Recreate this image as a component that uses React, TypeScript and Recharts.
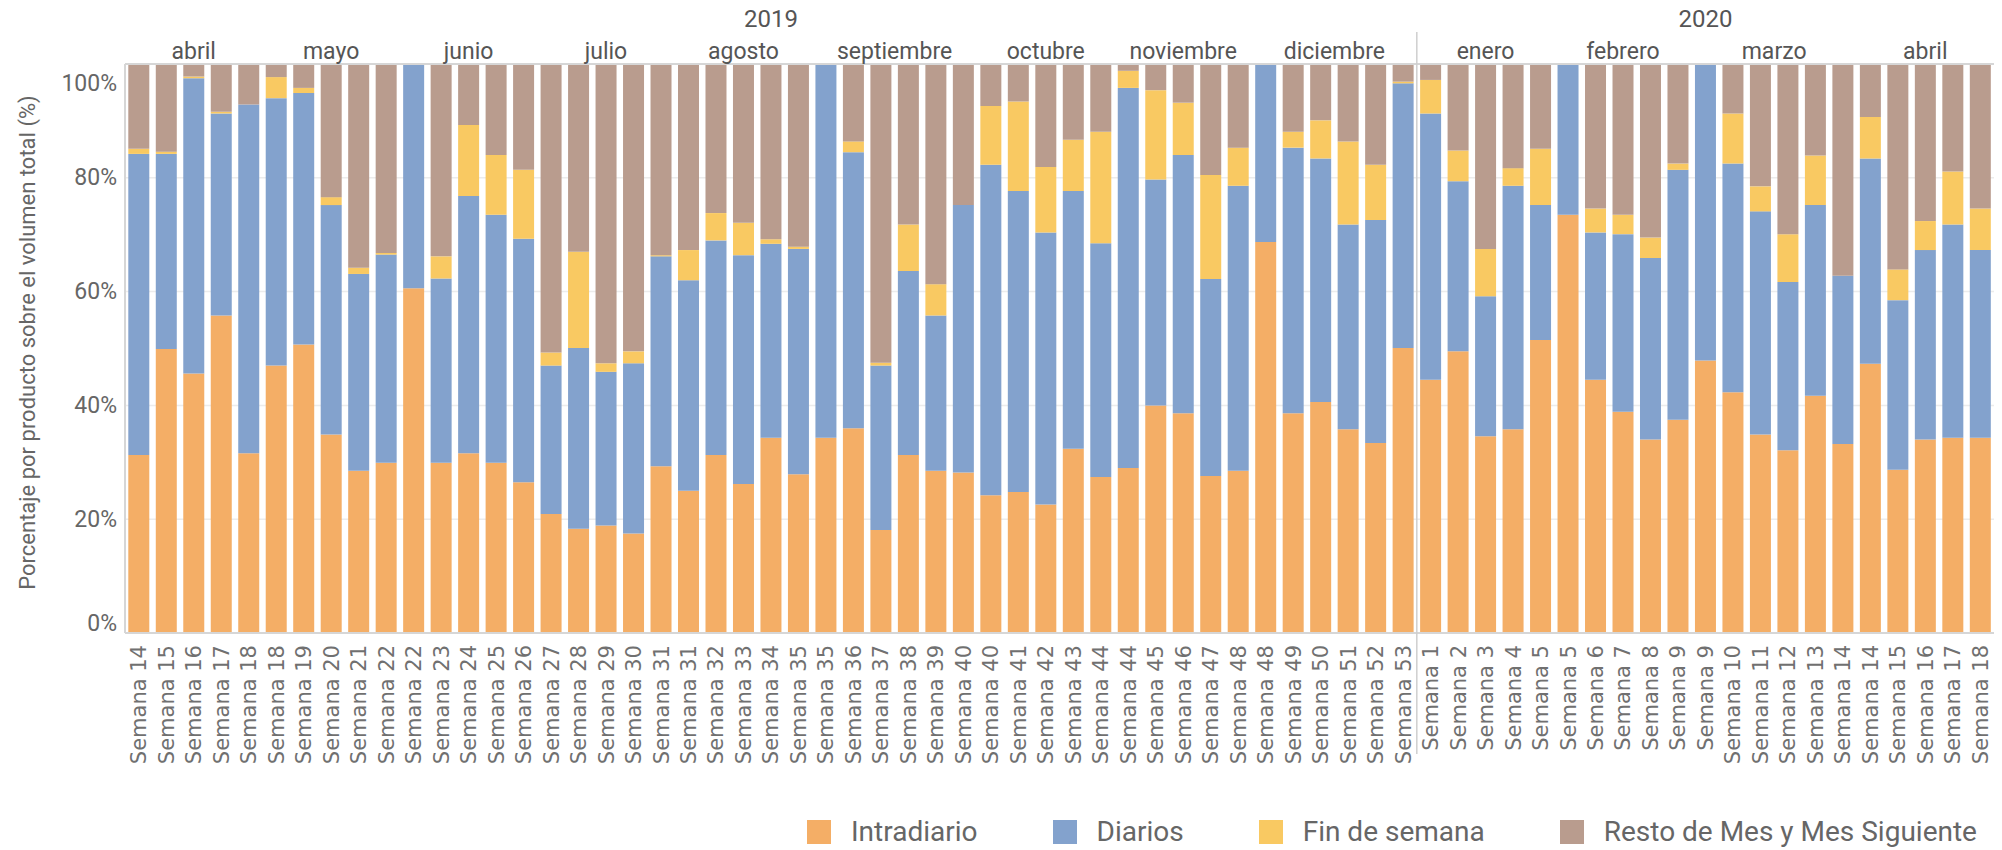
import React from 'react';
import { BarChart, Bar, XAxis, YAxis, CartesianGrid } from 'recharts';

const W = 2002;
const H = 850;
const Y_AXIS_W = 125;
const RIGHT_M = 8;
const PLOT_W = W - Y_AXIS_W - RIGHT_M;

const semanas = [
  'Semana 14', 'Semana 15', 'Semana 16', 'Semana 17', 'Semana 18', 'Semana 18', 'Semana 19', 'Semana 20', 'Semana 21', 'Semana 22',
  'Semana 22', 'Semana 23', 'Semana 24', 'Semana 25', 'Semana 26', 'Semana 27', 'Semana 28', 'Semana 29', 'Semana 30', 'Semana 31',
  'Semana 31', 'Semana 32', 'Semana 33', 'Semana 34', 'Semana 35', 'Semana 35', 'Semana 36', 'Semana 37', 'Semana 38', 'Semana 39',
  'Semana 40', 'Semana 40', 'Semana 41', 'Semana 42', 'Semana 43', 'Semana 44', 'Semana 44', 'Semana 45', 'Semana 46', 'Semana 47',
  'Semana 48', 'Semana 48', 'Semana 49', 'Semana 50', 'Semana 51', 'Semana 52', 'Semana 53', 'Semana 1', 'Semana 2', 'Semana 3',
  'Semana 4', 'Semana 5', 'Semana 5', 'Semana 6', 'Semana 7', 'Semana 8', 'Semana 9', 'Semana 9', 'Semana 10', 'Semana 11',
  'Semana 12', 'Semana 13', 'Semana 14', 'Semana 14', 'Semana 15', 'Semana 16', 'Semana 17', 'Semana 18',
];

const meses = ['abril', 'mayo', 'junio', 'julio', 'agosto', 'septiembre', 'octubre', 'noviembre', 'diciembre', 'enero', 'febrero', 'marzo', 'abril'];
const mesSemanas = [5, 5, 5, 5, 5, 6, 5, 5, 6, 5, 5, 6, 5];
const anios = ['2019', '2020'];
const anioSemanas = [47, 21];

// % sobre el volumen total
const intradiario = [
  31.3, 49.9, 45.6, 55.8, 31.6, 47.0, 50.7, 34.9, 28.5, 29.9,
  60.6, 29.9, 31.6, 29.9, 26.5, 20.9, 18.3, 18.9, 17.5, 29.3,
  25.0, 31.3, 26.2, 34.3, 27.9, 34.3, 36.0, 18.1, 31.3, 28.5,
  28.2, 24.2, 24.8, 22.6, 32.4, 27.4, 29.0, 40.0, 38.6, 27.6,
  28.5, 68.7, 38.6, 40.6, 35.8, 33.4, 50.1, 44.5, 49.5, 34.6,
  35.8, 51.5, 73.5, 44.5, 38.9, 34.0, 37.5, 47.9, 42.3, 34.9,
  32.1, 41.7, 33.2, 47.3, 28.7, 34.0, 34.3, 34.3,
];
const diarios = [
  52.9, 34.3, 51.9, 35.5, 61.3, 47.0, 44.2, 40.3, 34.6, 36.6,
  39.4, 32.4, 45.2, 43.6, 42.8, 26.1, 31.8, 27.0, 29.9, 36.9,
  37.0, 37.7, 40.2, 34.1, 39.6, 65.7, 48.5, 28.9, 32.3, 27.3,
  47.0, 58.1, 52.9, 47.8, 45.3, 41.1, 66.8, 39.7, 45.4, 34.6,
  50.1, 31.3, 46.7, 42.8, 36.0, 39.2, 46.5, 46.8, 29.9, 24.6,
  42.8, 23.7, 26.5, 25.9, 31.2, 31.9, 43.9, 52.1, 40.2, 39.2,
  29.6, 33.5, 29.6, 36.1, 29.8, 33.3, 37.5, 33.0,
];
const finDeSemana = [
  0.9, 0.4, 0.3, 0.3, 0, 3.7, 0.9, 1.4, 1.1, 0.3,
  0, 3.9, 12.5, 10.5, 12.1, 2.3, 16.9, 1.5, 2.1, 0.2,
  5.3, 4.8, 5.7, 0.8, 0.4, 0, 1.9, 0.5, 8.2, 5.5,
  0, 10.3, 15.7, 11.5, 9.0, 19.6, 3.0, 15.7, 9.2, 18.3,
  6.7, 0, 2.8, 6.7, 14.6, 9.7, 0.3, 5.9, 5.4, 8.3,
  3.1, 9.9, 0, 4.2, 3.4, 3.6, 1.1, 0, 8.8, 4.4,
  8.4, 8.7, 0, 7.3, 5.4, 5.1, 9.3, 7.3,
];
const resto = [
  14.9, 15.4, 2.2, 8.4, 7.1, 2.3, 4.2, 23.4, 35.8, 33.2,
  0, 33.8, 10.7, 16.0, 18.6, 50.7, 33.0, 52.6, 50.5, 33.6,
  32.7, 26.2, 27.9, 30.8, 32.1, 0, 13.6, 52.5, 28.2, 38.7,
  24.8, 7.4, 6.6, 18.1, 13.3, 11.9, 1.2, 4.6, 6.8, 19.5,
  14.7, 0, 11.9, 9.9, 13.6, 17.7, 3.1, 2.8, 15.2, 32.5,
  18.3, 14.9, 0, 25.4, 26.5, 30.5, 17.5, 0, 8.7, 21.5,
  29.9, 16.1, 37.2, 9.3, 36.1, 27.6, 18.9, 25.4,
];

const series = [
  { key: 'intradiario', name: 'Intradiario', color: '#F4AE66' },
  { key: 'diarios', name: 'Diarios', color: '#83A2CD' },
  { key: 'finDeSemana', name: 'Fin de semana', color: '#F9C962' },
  { key: 'resto', name: 'Resto de Mes y Mes Siguiente', color: '#B99C8E' },
];

const data = semanas.map((s, i) => ({
  idx: i,
  semana: s,
  intradiario: intradiario[i],
  diarios: diarios[i],
  finDeSemana: finDeSemana[i],
  resto: resto[i],
}));

// first bar of each month / year group
const groupStarts = (names: string[], sizes: number[]) => {
  const out: Record<number, { name: string; n: number }> = {};
  let acc = 0;
  names.forEach((name, k) => {
    out[acc] = { name, n: sizes[k] };
    acc += sizes[k];
  });
  return out;
};
const mesInicio = groupStarts(meses, mesSemanas);
const anioInicio = groupStarts(anios, anioSemanas);

const BAND = PLOT_W / semanas.length;
const BORDER = '#d6d6d6';
const SANS = 'Roboto, "Noto Sans", sans-serif';

const TopTick = (props: any) => {
  const { x, y, payload } = props;
  const i = payload.value;
  const mes = mesInicio[i];
  const anio = anioInicio[i];
  return (
    <g>
      {mes && (
        <text x={x + ((mes.n - 1) * BAND) / 2} y={y - 13} textAnchor="middle" dominantBaseline="central"
          fill="#555" fontSize={23} fontFamily={SANS}>
          {mes.name}
        </text>
      )}
      {anio && (
        <text x={x + ((anio.n - 1) * BAND) / 2} y={y - 45} textAnchor="middle" dominantBaseline="central"
          fill="#555" fontSize={24} fontFamily={SANS}>
          {anio.name}
        </text>
      )}
      {anio && i > 0 && (
        <line x1={x - BAND / 2} x2={x - BAND / 2} y1={y - 32} y2={y + 690} stroke="#cfcfcf" strokeWidth={1.5} />
      )}
    </g>
  );
};

const BottomTick = (props: any) => {
  const { x, y, payload } = props;
  return (
    <text x={x} y={y} transform={`rotate(-90, ${x}, ${y})`} textAnchor="end" dy="0.36em"
      fill="#707070" fontSize={21} fontFamily='"DejaVu Sans", sans-serif'>
      {semanas[payload.value]}
    </text>
  );
};

const YTick = (props: any) => {
  const { x, y, payload } = props;
  const v = payload.value;
  // Tableau keeps the end labels inside the pane
  const dy = v >= 1 ? 19 : v <= 0 ? -10 : 0;
  return (
    <text x={x} y={y + dy} textAnchor="end" dominantBaseline="central" fill="#666" fontSize={23} fontFamily={SANS}>
      {`${Math.round(v * 100)}%`}
    </text>
  );
};

const YTitle = (props: any) => {
  const { x, y, height } = props.viewBox;
  const cx = x + 27;
  const cy = y + height / 2 - 6;
  return (
    <text transform={`translate(${cx}, ${cy}) rotate(-90)`} textAnchor="middle" dominantBaseline="central"
      fill="#666" fontSize={22} fontFamily={SANS}>
      Porcentaje por producto sobre el volumen total (%)
    </text>
  );
};

export default function App() {
  return (
    <div style={{ position: 'absolute', left: 0, top: 0, width: W, height: H, background: '#fff' }}>
      <BarChart width={W} height={H} data={data} margin={{ top: 0, right: RIGHT_M, bottom: 0, left: 0 }}
        barCategoryGap="12%" stackOffset="expand">
        <CartesianGrid vertical={false} stroke="#ececec" strokeWidth={1.5} />
        <XAxis xAxisId="top" orientation="top" dataKey="idx" height={64} interval={0} tickLine={false}
          tickSize={0} tickMargin={0} axisLine={{ stroke: BORDER, strokeWidth: 2 }} tick={<TopTick />} />
        <XAxis dataKey="idx" height={217} interval={0} tickLine={false} tickSize={0} tickMargin={12}
          axisLine={{ stroke: BORDER, strokeWidth: 2 }} tick={<BottomTick />} />
        <YAxis width={Y_AXIS_W} domain={[0, 1]} ticks={[0, 0.2, 0.4, 0.6, 0.8, 1]} tickLine={false}
          tickSize={0} tickMargin={8} axisLine={{ stroke: BORDER, strokeWidth: 2 }} tick={<YTick />}
          label={{ content: (p: any) => <YTitle {...p} /> }} />
        <YAxis yAxisId="right" orientation="right" width={0} tick={false} tickLine={false}
          axisLine={{ stroke: BORDER, strokeWidth: 2 }} />
        {series.map((s) => (
          <Bar key={s.key} dataKey={s.key} name={s.name} stackId="a" fill={s.color} isAnimationActive={false} />
        ))}
      </BarChart>
      <div style={{ position: 'absolute', left: 807, top: 817, display: 'flex', alignItems: 'center', gap: 75,
        fontFamily: SANS, fontSize: 28, color: '#666' }}>
        {series.map((s) => (
          <div key={s.key} style={{ display: 'flex', alignItems: 'center' }}>
            <span style={{ display: 'inline-block', width: 24, height: 24, background: s.color, marginRight: 20 }} />
            <span style={{ lineHeight: '30px' }}>{s.name}</span>
          </div>
        ))}
      </div>
    </div>
  );
}
